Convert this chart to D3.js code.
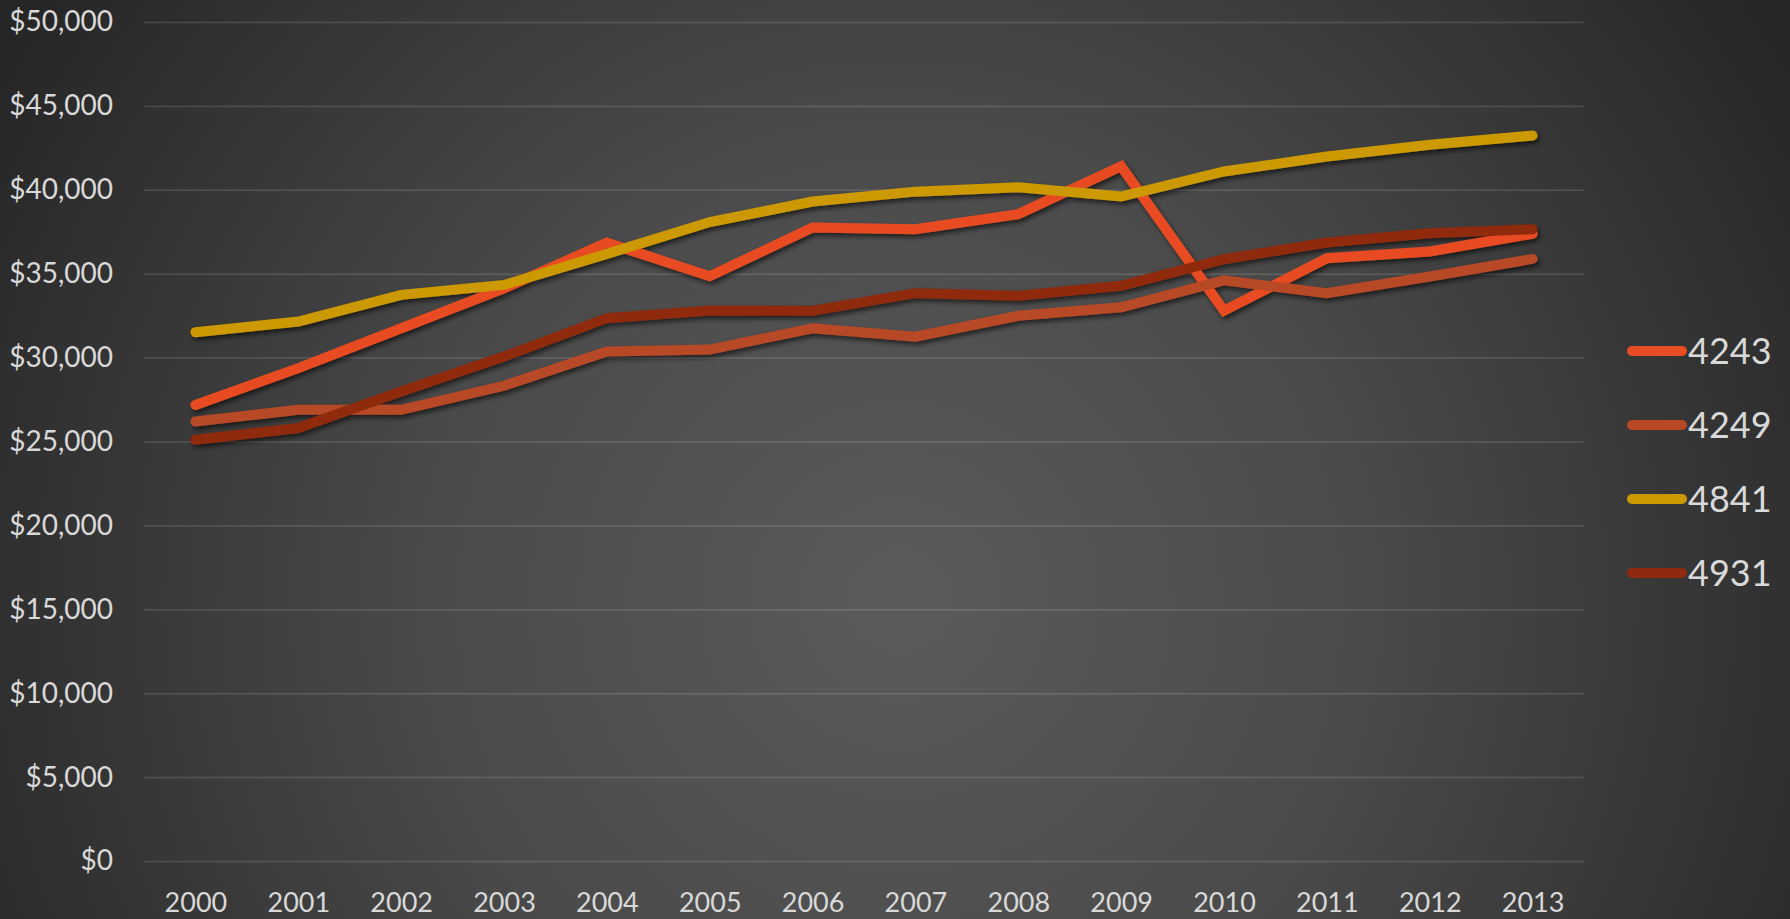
<!DOCTYPE html>
<html>
<head>
<meta charset="utf-8">
<script src="https://cdn.jsdelivr.net/npm/d3@7"></script>
<style>
  html, body { margin: 0; padding: 0; background: #2a2a2a; }
  svg { display: block; }
</style>
</head>
<body>
<script>
// ---- data ----
const years = ["2000","2001","2002","2003","2004","2005","2006","2007","2008","2009","2010","2011","2012","2013"];
const seriesNames = ["4243","4249","4841","4931"];
const s4243 = [27180, 29370, 31750, 34130, 36850, 34850, 37750, 37650, 38550, 41400, 32800, 35920, 36320, 37380];
const s4249 = [26190, 26890, 26890, 28320, 30360, 30480, 31750, 31250, 32490, 33000, 34600, 33840, 34830, 35880];
const s4841 = [31510, 32150, 33740, 34330, 36180, 38080, 39300, 39890, 40150, 39600, 41090, 41980, 42680, 43230];
const s4931 = [25100, 25800, 27980, 30060, 32350, 32800, 32790, 33840, 33680, 34280, 35860, 36860, 37410, 37650];
const yTicks = [0, 5000, 10000, 15000, 20000, 25000, 30000, 35000, 40000, 45000, 50000];
const colors = ["#E84C22", "#B84826", "#CC9900", "#8F2A10"];

const seriesValues = [s4243, s4249, s4841, s4931];

const W = 1790, H = 919;
const plot = { left: 144, right: 1584, top: 22, bottom: 861 };

const svg = d3.select("body").append("svg").attr("width", W).attr("height", H);
const defs = svg.append("defs");

const grad = defs.append("radialGradient").attr("id", "bg")
  .attr("gradientUnits", "userSpaceOnUse")
  .attr("cx", 900).attr("cy", 600).attr("r", 1050);
grad.append("stop").attr("offset", "0%").attr("stop-color", "#5b5b5b");
grad.append("stop").attr("offset", "45%").attr("stop-color", "#4a4a4a");
grad.append("stop").attr("offset", "100%").attr("stop-color", "#262626");

const shadow = defs.append("filter").attr("id", "shadow")
  .attr("x", "-10%").attr("y", "-10%").attr("width", "120%").attr("height", "130%");
shadow.append("feDropShadow").attr("dx", 2).attr("dy", 3).attr("stdDeviation", 2.5)
  .attr("flood-color", "#000").attr("flood-opacity", 0.6);

svg.append("rect").attr("width", W).attr("height", H).attr("fill", "url(#bg)");

const x = d3.scalePoint().domain(years).range([plot.left, plot.right]).padding(0.5);
const y = d3.scaleLinear().domain([0, 50000]).range([plot.bottom, plot.top]);

// gridlines
const grid = svg.append("g").attr("transform", `translate(${plot.left},0)`)
  .call(d3.axisLeft(y).tickValues(yTicks).tickSize(-(plot.right - plot.left)).tickFormat(""));
grid.select(".domain").remove();
grid.selectAll("line").attr("stroke", "#ffffff").attr("stroke-opacity", 0.14).attr("stroke-width", 1.5);

// y axis labels
const yAxis = svg.append("g").attr("transform", `translate(${plot.left},0)`)
  .call(d3.axisLeft(y).tickValues(yTicks).tickSize(0).tickPadding(31).tickFormat(d3.format("$,")));
yAxis.select(".domain").remove();
yAxis.selectAll("text").attr("fill", "#d9d9d9").style("font-family", "Lato, 'Open Sans', sans-serif").style("font-size", "28px");

// x axis labels
const xAxis = svg.append("g").attr("transform", `translate(0,${plot.bottom})`)
  .call(d3.axisBottom(x).tickSize(0).tickPadding(32));
xAxis.select(".domain").remove();
xAxis.selectAll("text").attr("fill", "#d9d9d9").style("font-family", "Lato, 'Open Sans', sans-serif").style("font-size", "27px");

// lines
const line = d3.line().x((d, i) => x(years[i])).y(d => y(d));
const lines = svg.append("g").attr("filter", "url(#shadow)");
seriesValues.forEach((vals, k) => {
  lines.append("path").datum(vals)
    .attr("d", line)
    .attr("fill", "none")
    .attr("stroke", colors[k])
    .attr("stroke-width", 10)
    .attr("stroke-linecap", "round")
    .attr("stroke-linejoin", "miter");
});

// legend
const legend = svg.append("g");
seriesNames.forEach((name, k) => {
  const cy = 351 + k * 74;
  legend.append("line")
    .attr("x1", 1632).attr("x2", 1682).attr("y1", cy).attr("y2", cy)
    .attr("stroke", colors[k]).attr("stroke-width", 10).attr("stroke-linecap", "round");
  legend.append("text")
    .attr("x", 1688).attr("y", cy).attr("dy", "0.36em")
    .attr("fill", "#d9d9d9")
    .style("font-family", "Lato, 'Open Sans', sans-serif").style("font-size", "36px")
    .text(name);
});
</script>
</body>
</html>
